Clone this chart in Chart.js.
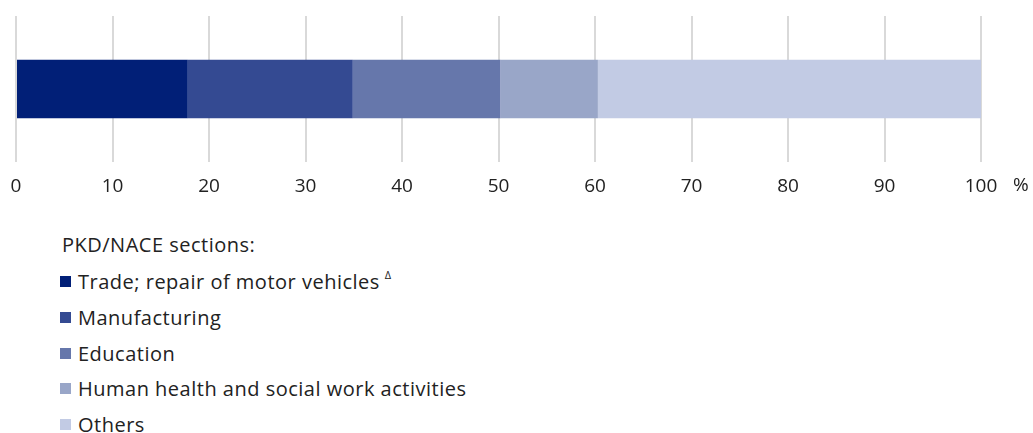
<!DOCTYPE html>
<html>
<head>
<meta charset="utf-8">
<script src="https://cdn.jsdelivr.net/npm/chart.js@4/dist/chart.umd.min.js"></script>
<style>
    html, body {
        margin: 0;
        padding: 0;
        background: #fff;
        width: 1033px;
        height: 433px;
        overflow: hidden;
        font-family: 'Open Sans', sans-serif;
        color: #222;
    }
    #chartBox {
        position: relative;
        width: 1033px;
        height: 210px;
    }
    #legend {
        position: absolute;
        left: 60px;
        top: 227px;
        font-size: 20px;
        letter-spacing: 0.5px;
    }
    .legend-title {
        margin-left: 2px;
        height: 37px;
        line-height: 36px;
    }
    .legend-item {
        display: flex;
        align-items: center;
        height: 35.7px;
    }
    .legend-box {
        width: 11px;
        height: 11px;
        margin-right: 7px;
        flex: none;
    }
    sup {
        font-size: 11px;
        margin-left: 5px;
        position: relative;
        top: -3px;
    }
</style>
</head>
<body>
<div id="chartBox"><canvas id="sharesChart"></canvas></div>
<div id="legend"></div>

<script>
// Data
const categories = [''];
const sectionNames = [
    'Trade; repair of motor vehicles',
    'Manufacturing',
    'Education',
    'Human health and social work activities',
    'Others'
];
const sectionShares = [17.8, 17.1, 15.3, 10.1, 39.7];
const sectionNotes = ['\u0394', '', '', '', ''];
const sectionColors = ['#011f77', '#344a92', '#6677ab', '#99a6c8', '#c2cbe4'];
const tickValues = [0, 10, 20, 30, 40, 50, 60, 70, 80, 90, 100];
const unitLabel = '%';

// Draws the "%" unit to the right of the last tick
const unitPlugin = {
    id: 'unitLabel',
    afterDraw(chart) {
        const x = chart.scales.x;
        const ctx = chart.ctx;
        ctx.save();
        ctx.font = '19px "Open Sans"';
        ctx.fillStyle = '#222';
        ctx.textBaseline = 'middle';
        ctx.textAlign = 'left';
        ctx.fillText(unitLabel, x.getPixelForValue(100) + 32, x.top + 24);
        ctx.restore();
    }
};

const ctx = document.getElementById('sharesChart').getContext('2d');
const sharesChart = new Chart(ctx, {
    type: 'bar',
    data: {
        labels: categories,
        datasets: sectionNames.map((name, i) => ({
            label: name,
            data: [sectionShares[i]],
            backgroundColor: sectionColors[i],
            borderWidth: 0,
            barPercentage: 0.4,
            categoryPercentage: 1
        }))
    },
    options: {
        indexAxis: 'y',
        responsive: true,
        maintainAspectRatio: false,
        animation: false,
        layout: {
            padding: { left: 16, right: 52, top: 16, bottom: 0 }
        },
        plugins: {
            legend: { display: false },
            tooltip: { enabled: false }
        },
        scales: {
            x: {
                stacked: true,
                min: 0,
                max: 100,
                afterBuildTicks: (scale) => {
                    scale.ticks = tickValues.map(v => ({ value: v }));
                },
                afterFit: (scale) => {
                    scale.height = 48;
                    scale.paddingLeft = 0;
                    scale.paddingRight = 0;
                },
                border: { display: false },
                grid: {
                    color: '#d9d9d9',
                    lineWidth: 2,
                    drawTicks: false
                },
                ticks: {
                    padding: 13,
                    color: '#222',
                    font: { size: 19, family: 'Open Sans' }
                }
            },
            y: {
                stacked: true,
                display: false
            }
        }
    },
    plugins: [unitPlugin]
});

// HTML legend, one row per section
const legend = document.getElementById('legend');
const title = document.createElement('div');
title.className = 'legend-title';
title.textContent = 'PKD/NACE sections:';
legend.appendChild(title);

sectionNames.forEach((name, i) => {
    const row = document.createElement('div');
    row.className = 'legend-item';
    const box = document.createElement('span');
    box.className = 'legend-box';
    box.style.background = sectionColors[i];
    const text = document.createElement('span');
    text.textContent = name;
    row.appendChild(box);
    row.appendChild(text);
    if (sectionNotes[i]) {
        const note = document.createElement('sup');
        note.textContent = sectionNotes[i];
        text.appendChild(note);
    }
    legend.appendChild(row);
});
</script>
</body>
</html>
